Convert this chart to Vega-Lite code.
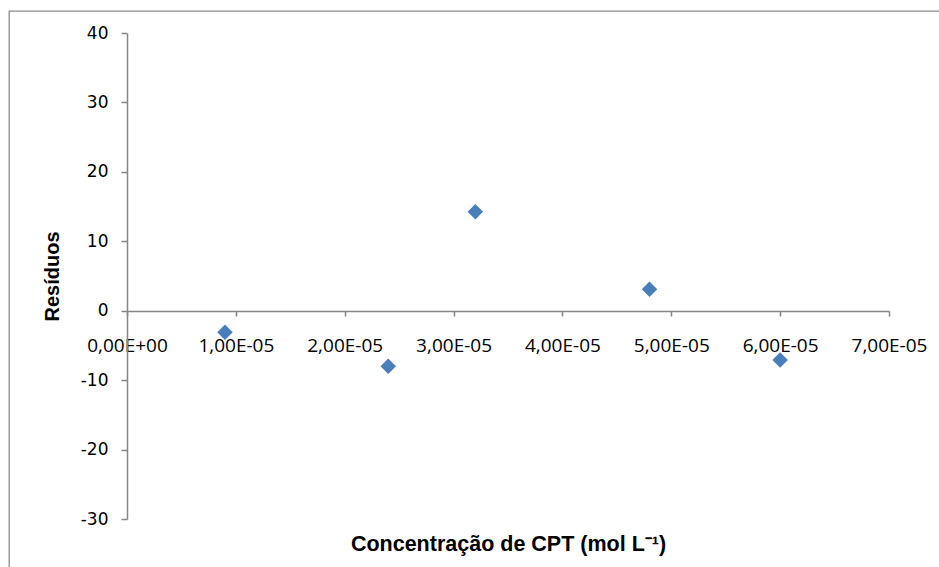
{
  "$schema": "https://vega.github.io/schema/vega-lite/v6.json",
  "width": 940,
  "height": 560,
  "autosize": {"type": "none"},
  "padding": {"left": 9, "top": 11, "right": 0, "bottom": 0},
  "background": "white",
  "config": {"view": {"stroke": "#8a8a8a", "strokeWidth": 1.3}},
  "data": {
    "values": [
      {"concentracao": 9e-6, "residuo": -3.1},
      {"concentracao": 2.4e-5, "residuo": -8.0},
      {"concentracao": 3.2e-5, "residuo": 14.25},
      {"concentracao": 4.8e-5, "residuo": 3.1},
      {"concentracao": 6e-5, "residuo": -7.1}
    ]
  },
  "mark": {"type": "point", "shape": "diamond", "filled": true, "color": "#4A7EBB", "opacity": 1, "size": 240},
  "encoding": {
    "x": {
      "field": "concentracao",
      "type": "quantitative",
      "scale": {"domain": [0, 7e-5], "range": [118, 880], "nice": false, "zero": false},
      "axis": {
        "orient": "bottom",
        "offset": -260,
        "values": [0, 1e-5, 2e-5, 3e-5, 4e-5, 5e-5, 6e-5, 7e-5],
        "labelExpr": "datum.value == 0 ? '0,00E+00' : replace(format(datum.value / 1e-5, '.2f'), '.', ',') + 'E-05'",
        "labelFont": "Open Sans",
        "labelFontSize": 19,
        "labelColor": "black",
        "labelPadding": 20,
        "labelOverlap": false,
        "labelFlush": false,
        "labelBound": false,
        "tickSize": 5,
        "tickColor": "#868686",
        "tickWidth": 1.5,
        "domainColor": "#868686",
        "domainWidth": 1.5,
        "grid": false,
        "title": "Concentração  de CPT (mol L⁻¹)",
        "titleFont": "Liberation Sans",
        "titleFontSize": 21.5,
        "titleFontWeight": "bold",
        "titleColor": "black",
        "titleX": 499,
        "titleY": 239,
        "titleBaseline": "alphabetic",
        "titleAlign": "center"
      }
    },
    "y": {
      "field": "residuo",
      "type": "quantitative",
      "scale": {"domain": [-30, 40], "range": [508, 22], "nice": false, "zero": false},
      "axis": {
        "orient": "left",
        "offset": -118,
        "values": [-30, -20, -10, 0, 10, 20, 30, 40],
        "labelExpr": "'' + datum.value",
        "labelFont": "DejaVu Sans",
        "labelFontSize": 17,
        "labelColor": "black",
        "labelPadding": 13,
        "labelOverlap": false,
        "labelFlush": false,
        "labelBound": false,
        "tickSize": 6,
        "tickColor": "#868686",
        "tickWidth": 1.5,
        "domainColor": "#868686",
        "domainWidth": 1.5,
        "grid": false,
        "title": "Resíduos",
        "titleFont": "Liberation Sans",
        "titleFontSize": 20,
        "titleFontWeight": "bold",
        "titleColor": "black",
        "titleAngle": -90,
        "titleX": -69,
        "titleY": 265,
        "titleBaseline": "alphabetic",
        "titleAlign": "center"
      }
    }
  }
}
